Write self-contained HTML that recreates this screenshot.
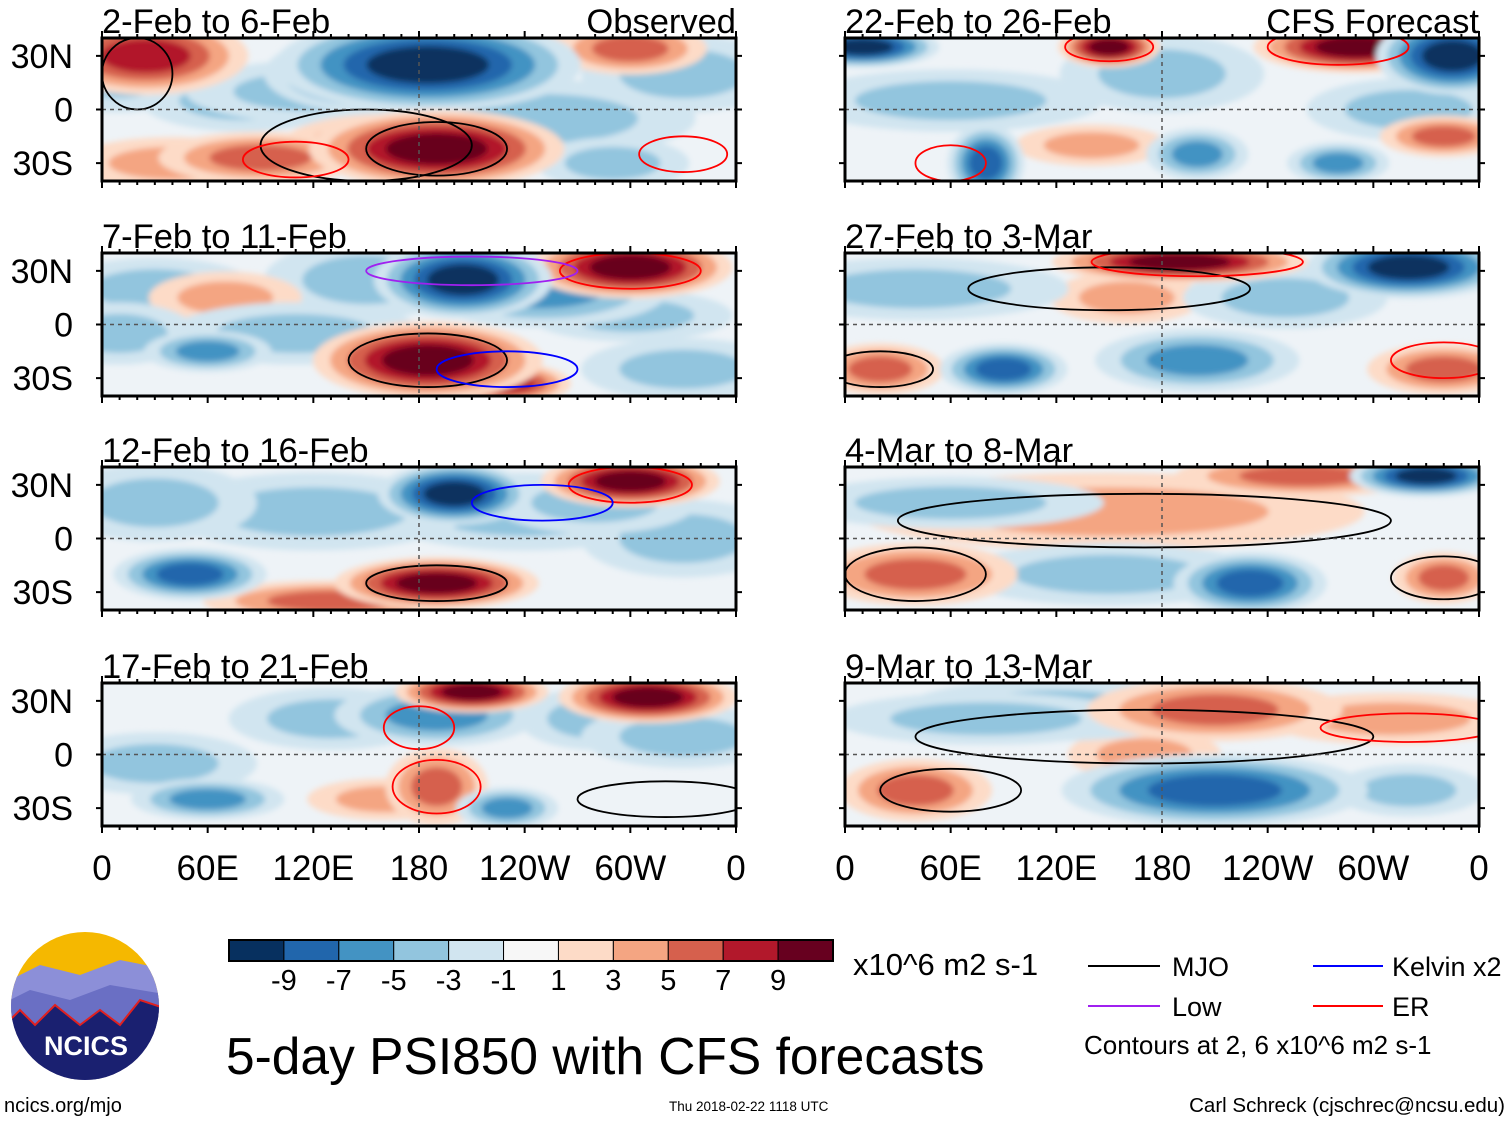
<!DOCTYPE html>
<html><head><meta charset="utf-8">
<style>
body{margin:0;background:#fff;}
svg{display:block;font-family:"Liberation Sans",Arial,sans-serif;}
</style></head>
<body>
<svg id="fig" width="1510" height="1121" viewBox="0 0 1510 1121">
<defs>
<filter id="soft" x="-20%" y="-20%" width="140%" height="140%"><feGaussianBlur stdDeviation="3"/></filter>
</defs>
<g id="panels"></g>
<g id="colorbar"></g>
<text x="853" y="975" font-size="31">x10^6 m2 s-1</text>
<g font-size="27">
<line x1="1088" y1="966" x2="1160" y2="966" stroke="#000" stroke-width="2"/><text x="1172" y="976">MJO</text>
<line x1="1088" y1="1006" x2="1160" y2="1006" stroke="#a020f0" stroke-width="2"/><text x="1172" y="1016">Low</text>
<line x1="1313" y1="966" x2="1383" y2="966" stroke="#0000ff" stroke-width="2"/><text x="1392" y="976">Kelvin x2</text>
<line x1="1313" y1="1006" x2="1383" y2="1006" stroke="#ff0000" stroke-width="2"/><text x="1392" y="1016">ER</text>
<text x="1084" y="1054" font-size="26">Contours at 2, 6 x10^6 m2 s-1</text>
</g>
<text x="226" y="1074" font-size="51.5">5-day PSI850 with CFS forecasts</text>
<text x="4" y="1112" font-size="20">ncics.org/mjo</text>
<text x="669" y="1111" font-size="13.5">Thu 2018-02-22 1118 UTC</text>
<text x="1505" y="1112" font-size="20.5" text-anchor="end">Carl Schreck (cjschrec@ncsu.edu)</text>
<g>
<clipPath id="lc"><circle cx="85" cy="1006" r="74"/></clipPath>
<g clip-path="url(#lc)">
<rect x="0" y="930" width="170" height="160" fill="#f5b800"/>
<path d="M0 985 L40 965 L80 975 L120 960 L170 970 L170 1090 L0 1090Z" fill="#8c8fd8"/>
<path d="M0 1005 L30 990 L70 1000 L110 985 L170 995 L170 1090 L0 1090Z" fill="#6a6fc4"/>
<path d="M0 1030 L20 1010 L35 1025 L55 1005 L80 1025 L100 1010 L120 1025 L140 1000 L170 1010 L170 1090 L0 1090Z" fill="#1a2070" stroke="#e02020" stroke-width="2"/>
</g>
<text x="86" y="1055" font-size="27" font-weight="bold" fill="#fff" text-anchor="middle">NCICS</text>
</g>
</svg>
<script>
// ---- data: anomaly blobs per panel (lon deg E, lat deg, value, width deg, height deg)
const panelTitles = ["2-Feb to 6-Feb","7-Feb to 11-Feb","12-Feb to 16-Feb","17-Feb to 21-Feb","22-Feb to 26-Feb","27-Feb to 3-Mar","4-Mar to 8-Mar","9-Mar to 13-Mar"];
const blobLon = [
 [25,185,150,190,160,90,40,250,330,80,290,230,300,10,120],
 [300,205,250,150,185,230,60,30,300,70,10,330,110],
 [300,200,240,190,130,50,120,330,30,280],
 [310,210,190,130,190,160,60,230,280,30,330],
 [10,150,290,345,80,200,280,340,140,180,320,60],
 [190,320,90,200,340,20,160,250,40],
 [330,260,150,40,340,230,150,60],
 [210,310,40,210,320,170,120,80]
];
const blobLat = [
 [30,25,20,-22,-20,-27,-30,-5,20,5,-30,32,34,20,10],
 [32,25,20,25,-20,-33,-15,20,5,15,-5,-25,-5],
 [32,25,15,-25,-35,-20,15,0,20,20],
 [32,35,22,20,-18,-25,-25,-30,20,-5,10],
 [35,35,35,30,-30,-25,-30,-15,-20,20,0,5],
 [35,32,-25,-20,-25,-25,15,15,20],
 [35,35,15,-20,-22,-25,-20,20],
 [25,20,-20,-20,-20,0,25,20]
];
const blobVal = [
 [7,-9,-7,9,5,5,3,-3,-3,-3,-3,3,5,-3,-3],
 [9,-9,-5,-3,9,7,-5,-3,-3,3,-3,-3,-3],
 [9,-9,-3,9,5,-7,-3,-3,-3,-3],
 [9,9,-5,-3,5,3,-5,-5,-3,-3,-3],
 [-9,9,9,-9,-7,-5,-5,5,3,-3,-3,-3],
 [9,-9,-7,-5,5,5,3,-3,-3],
 [-9,5,3,5,5,-7,-3,-3],
 [5,3,5,-7,-3,3,-3,-3]
];
const blobW = [
 [40,60,40,50,40,40,40,60,40,40,30,30,30,30,50],
 [40,35,50,40,45,25,25,40,40,30,30,40,50],
 [35,30,60,40,50,30,60,40,40,40],
 [35,30,40,40,20,30,30,20,30,40,40],
 [30,20,40,30,15,20,20,25,30,40,40,60],
 [50,40,25,40,30,25,30,40,60],
 [30,50,100,40,20,30,60,60],
 [50,50,30,60,30,30,60,60]
];
const blobH = [
 [15,18,15,15,12,10,10,15,15,12,10,10,10,15,12],
 [12,15,15,15,15,8,8,12,10,10,12,12,12],
 [10,12,15,10,8,10,15,15,15,12],
 [10,8,12,12,15,8,8,8,12,12,12],
 [8,8,10,15,15,10,8,8,8,15,12,12],
 [8,12,10,12,10,10,10,12,12],
 [8,8,15,12,10,12,12,10],
 [12,10,12,14,10,10,12,10]
];
// contour outlines: lon, lat, width, height, kind
const ctrLon = [[190,150,20,330,110],[185,300,230,210],[190,300,250],[190,320,180],[280,150,60],[150,200,20,340],[170,40,340],[170,60,320]];
const ctrLat = [[-22,-20,20,-25,-28],[-20,30,-25,30],[-25,30,20],[-18,-25,15],[35,35,-30],[20,35,-25,-20],[10,-20,-22],[10,-20,15]];
const ctrKind = [["k","k","k","r","r"],["k","r","b","p"],["k","r","b"],["r","k","r"],["r","r","r"],["k","r","k","r"],["k","k","k"],["k","k","r"]];
const ctrW = [[40,60,20,25,30],[45,40,40,60],[40,35,40],[25,50,20],[40,25,20],[80,60,30,30],[140,40,30],[130,40,50]];
const ctrH = [[15,20,20,10,10],[15,10,10,8],[10,10,10],[15,10,12],[10,8,10],[12,8,10,10],[15,15,12],[15,12,8]];
const levels = [-9,-7,-5,-3,-1,1,3,5,7,9];
const colors = ["#07305f","#2166ac","#4393c3","#92c5de","#d1e5f0","#f7f7f7","#fddbc7","#f4a582","#d6604d","#b2182b","#67001f"];
const xTicks = ["0","60E","120E","180","120W","60W","0"];
const yTicks = [["30N",30],["0",0],["30S",-30]];

const NS="http://www.w3.org/2000/svg";
function mk(tag,attrs,parent){const e=document.createElementNS(NS,tag);for(const k in attrs)e.setAttribute(k,attrs[k]);parent.appendChild(e);return e;}
function colorFor(v){let i=0;while(i<levels.length&&v>levels[i])i++;return colors[i];}
const colX=[102,845], rowY=[38,253,467,683], PW=634, PH=143;
const SZ=1.45;
const ctrColor={k:"#000",r:"#ff0000",b:"#0000ff",p:"#a020f0"};
const root=document.getElementById('panels');
for(let p=0;p<8;p++){
  const c=p<4?0:1, r=p%4, x0=colX[c], y0=rowY[r];
  const xS=lon=>x0+lon/360*PW;
  const yS=lat=>y0+PH/2-lat/40*(PH/2);
  const g=mk('g',{},root);
  
  
  const cp=mk('clipPath',{id:'cp'+p},g);
  mk('rect',{x:x0,y:y0,width:PW,height:PH},cp);
  const inner=mk('g',{'clip-path':'url(#cp'+p+')'},g);
  mk('rect',{x:x0,y:y0,width:PW,height:PH,fill:'#eef3f7'},inner);
  const bl=mk('g',{filter:'url(#soft)'},inner);
  // draw weaker blobs first so strong centres stay on top
  const order=blobVal[p].map((v,i)=>i).sort((a,b)=>Math.abs(blobVal[p][a])-Math.abs(blobVal[p][b]));
  for(const i of order){
    const v=blobVal[p][i], a=Math.abs(v), s=Math.sign(v);
    for(let k=1;k<=a;k+=2){
      const f=1-(k-1)/(a+1)*0.75;
      const e=mk('ellipse',{cx:xS(blobLon[p][i]),cy:yS(blobLat[p][i]),rx:SZ*blobW[p][i]/360*PW*f,ry:SZ*blobH[p][i]/40*(PH/2)*f,fill:colorFor(s*(k+0.5))},bl);
      
      
    }
  }
  for(let i=0;i<ctrLon[p].length;i++){
    const e=mk('ellipse',{cx:xS(ctrLon[p][i]),cy:yS(ctrLat[p][i]),rx:ctrW[p][i]/360*PW,ry:ctrH[p][i]/40*(PH/2),fill:'none',stroke:ctrColor[ctrKind[p][i]],'stroke-width':1.8},inner);
    
    
  }
  mk('line',{x1:x0,x2:x0+PW,y1:yS(0),y2:yS(0),stroke:'#555','stroke-dasharray':'4 4','stroke-width':1.5},inner);
  mk('line',{x1:xS(180),x2:xS(180),y1:y0,y2:y0+PH,stroke:'#555','stroke-dasharray':'4 4','stroke-width':1.5},inner);
  mk('rect',{x:x0,y:y0,width:PW,height:PH,fill:'none',stroke:'#000','stroke-width':3},g);
  for(let lon=0;lon<=360;lon+=10){
    const L=lon%60===0?7:4;
    mk('line',{x1:xS(lon),x2:xS(lon),y1:y0,y2:y0-L,stroke:'#000','stroke-width':2},g);
    mk('line',{x1:xS(lon),x2:xS(lon),y1:y0+PH,y2:y0+PH+L,stroke:'#000','stroke-width':2},g);
  }
  for(const [lab,lat] of yTicks){
    mk('line',{x1:x0-6,x2:x0,y1:yS(lat),y2:yS(lat),stroke:'#000','stroke-width':2},g);
    mk('line',{x1:x0+PW,x2:x0+PW+6,y1:yS(lat),y2:yS(lat),stroke:'#000','stroke-width':2},g);
    if(c===0){const t=mk('text',{x:73,y:yS(lat)+12,'font-size':34,'text-anchor':'end'},g);t.textContent=lab;
      }
  }
  const t=mk('text',{x:x0,y:y0-5,'font-size':34.5},g);t.textContent=panelTitles[p];
  
  
  if(r===0){const t2=mk('text',{x:x0+PW,y:y0-5,'font-size':34.5,'text-anchor':'end'},g);t2.textContent=c===0?'Observed':'CFS Forecast';
    }
  if(r===3){xTicks.forEach((lab,i)=>{const tt=mk('text',{x:xS(i*60),y:880,'font-size':35,'text-anchor':'middle'},g);tt.textContent=lab;
    });}
}
const cb=document.getElementById('colorbar');
const cbx=229,cbw=604/11;
colors.forEach((col,i)=>{const rr=mk('rect',{x:cbx+i*cbw,y:940,width:cbw,height:21,fill:col,stroke:'#000','stroke-width':1},cb);
  });
mk('rect',{x:cbx,y:940,width:604,height:21,fill:'none',stroke:'#000','stroke-width':2},cb);
levels.forEach((lv,i)=>{const tt=mk('text',{x:cbx+(i+1)*cbw,y:990,'font-size':29,'text-anchor':'middle'},cb);tt.textContent=lv;
  });
</script>
</body></html>
